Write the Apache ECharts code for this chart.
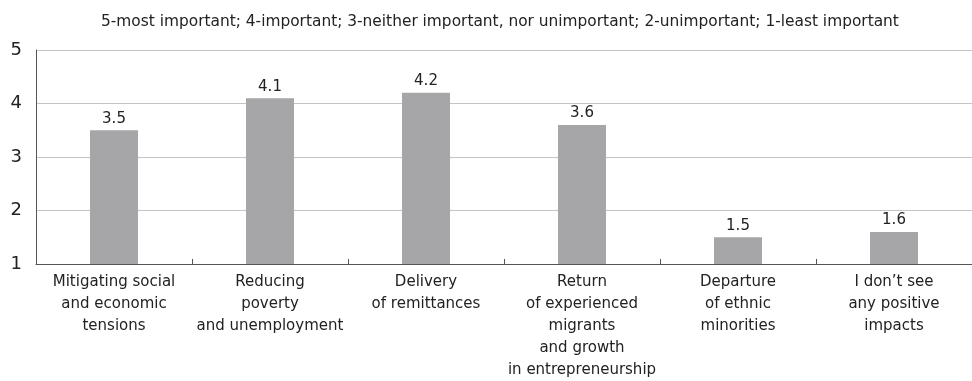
<!DOCTYPE html>
<html>
<head>
<meta charset="utf-8">
<script src="https://cdn.jsdelivr.net/npm/echarts@6/dist/echarts.min.js"></script>
<style>
  html, body { margin: 0; padding: 0; background: #fff; }
  #chart { width: 972px; height: 381px; }
</style>
</head>
<body>
<div id="chart"></div>
<script>
const titleText = '5-most important; 4-important; 3-neither important, nor unimportant; 2-unimportant; 1-least important'
const categories = [
  'Mitigating social\nand economic\ntensions',
  'Reducing\npoverty\nand unemployment',
  'Delivery\nof remittances',
  'Return\nof experienced\nmigrants\nand growth\nin entrepreneurship',
  'Departure\nof ethnic\nminorities',
  'I don\u2019t see\nany positive\nimpacts'
]
const scores = [3.5, 4.1, 4.2, 3.6, 1.5, 1.6]

const chart = echarts.init(document.getElementById('chart'))

// the original picture is cut off on the right, so the grid runs past the edge
const option = {
  animation: false,
  textStyle: { fontFamily: 'DejaVu Sans' },
  title: {
    text: titleText,
    left: 96,
    top: 9,
    textStyle: { fontSize: 15.4, fontWeight: 'normal', color: '#222', fontFamily: 'DejaVu Sans' }
  },
  grid: { left: 36, right: -10, top: 50, bottom: 116 },
  xAxis: {
    type: 'category',
    data: categories,
    axisLine: { lineStyle: { color: '#555', width: 1 } },
    axisTick: { show: true, inside: true, length: 5, lineStyle: { color: '#555' } },
    axisLabel: { fontSize: 15, color: '#222', lineHeight: 22, margin: 7, interval: 0 }
  },
  yAxis: {
    type: 'value',
    min: 1,
    max: 5,
    interval: 1,
    axisLine: { show: true, lineStyle: { color: '#555' } },
    axisTick: { show: false },
    axisLabel: { fontSize: 18, color: '#222', margin: 14 },
    splitLine: { lineStyle: { color: '#c4c4c4' } }
  },
  series: [{
    type: 'bar',
    data: scores,
    barWidth: 48,
    itemStyle: { color: '#a6a6a8' },
    label: { show: true, position: 'top', fontSize: 15, color: '#222', distance: 4 }
  }]
}

chart.setOption(option)
</script>
</body>
</html>
